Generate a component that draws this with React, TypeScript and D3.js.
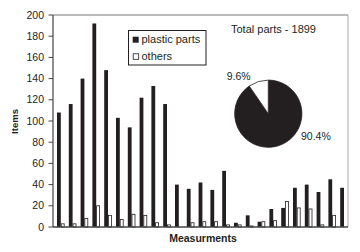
import React from "react";
import * as d3 from "d3";

const categories = d3.range(1, 26).map(String);
const plastic = [108, 116, 140, 192, 148, 103, 94, 122, 133, 116, 40, 36, 42, 35, 53, 4, 11, 5, 17, 18, 37, 40, 33, 45, 37];
const others = [3, 3, 8, 20, 11, 7, 12, 11, 4, 2, 0, 4, 5, 5, 2, 2, 1, 5, 6, 24, 18, 17, 2, 11, 0];
const yTicks = [0, 20, 40, 60, 80, 100, 120, 140, 160, 180, 200];
const pieValues = [90.4, 9.6];
const pieLabels = ["90.4%", "9.6%"];
const seriesNames = ["plastic parts", "others"];

const W = 360, H = 252;
const left = 53, right = 348, top = 15, bottom = 227;
const ink = "#231f20";
const font = "'Liberation Sans', Arial, sans-serif";

export default function App() {
  const x = d3.scaleBand<string>().domain(categories).range([left, right]);
  const xs = d3.scaleBand<string>().domain(["p", "o"]).range([4, 11.6]);
  const y = d3.scaleLinear().domain([0, 200]).range([bottom, top]);

  const cx = 268.3, cy = 113.7, r = 33.6;
  const arcs = d3.pie<number>().sort(null)(pieValues);
  const arc = d3.arc<d3.PieArcDatum<number>>().innerRadius(0).outerRadius(r);

  return (
    <svg width={W} height={H} style={{ position: "absolute", left: 0, top: 0 }} fontFamily={font}>
      <rect x={0} y={0} width={W} height={H} fill="#fff" />
      {/* plot border */}
      <line x1={left} x2={right} y1={top} y2={top} stroke="#777" strokeWidth={1} />
      <line x1={right} x2={right} y1={top} y2={bottom} stroke="#aaa" strokeWidth={1} />
      {/* bars */}
      {categories.map((c, i) => (
        <g key={c}>
          <rect
            x={(x(c) as number) + (xs("p") as number)}
            y={y(plastic[i])}
            width={xs.bandwidth()}
            height={bottom - y(plastic[i])}
            fill={ink}
          />
          {others[i] > 0 && (
            <rect
              x={(x(c) as number) + (xs("o") as number) + 0.4}
              y={y(others[i])}
              width={xs.bandwidth() - 0.8}
              height={bottom - y(others[i])}
              fill="#fff"
              stroke={ink}
              strokeWidth={0.8}
            />
          )}
        </g>
      ))}
      {/* y axis */}
      <line x1={left} x2={left} y1={top} y2={bottom} stroke="#444" strokeWidth={1.2} />
      {yTicks.map((t) => (
        <g key={t}>
          <line x1={left - 4.5} x2={left} y1={y(t)} y2={y(t)} stroke="#444" strokeWidth={1} />
          <text x={44} y={y(t)} dy="0.35em" textAnchor="end" fontSize={10.5} fill={ink}>
            {t}
          </text>
        </g>
      ))}
      {/* x axis */}
      <line x1={left} x2={right} y1={bottom} y2={bottom} stroke="#444" strokeWidth={1.4} />
      <text x={203} y={241.5} textAnchor="middle" fontSize={10.5} fontWeight="bold" fill={ink}>
        Measurments
      </text>
      <text
        transform={`translate(17.5,121.5) rotate(-90)`}
        textAnchor="middle"
        fontSize={9.5}
        fontWeight="bold"
        fill={ink}
      >
        Items
      </text>
      {/* legend */}
      <rect x={128.5} y={30.5} width={77.5} height={34.5} fill="#fff" stroke={ink} strokeWidth={1} />
      <rect x={132.7} y={36.7} width={6} height={6} fill={ink} />
      <text x={141.5} y={43.2} fontSize={11} fill={ink}>{seriesNames[0]}</text>
      <rect x={133.2} y={53.8} width={5.5} height={5.5} fill="#fff" stroke={ink} strokeWidth={0.8} />
      <text x={141.5} y={59.8} fontSize={11} fill={ink}>{seriesNames[1]}</text>
      {/* pie */}
      <text x={231} y={33.3} fontSize={11} fill={ink}>Total parts - 1899</text>
      <g transform={`translate(${cx},${cy})`}>
        {arcs.map((a, i) => (
          <path key={i} d={arc(a) as string} fill={i === 0 ? ink : "#fff"} stroke={ink} strokeWidth={0.8} />
        ))}
      </g>
      <text x={301} y={140} fontSize={10.5} fill={ink}>{pieLabels[0]}</text>
      <text x={226.7} y={80} fontSize={10.5} fill={ink}>{pieLabels[1]}</text>
    </svg>
  );
}
